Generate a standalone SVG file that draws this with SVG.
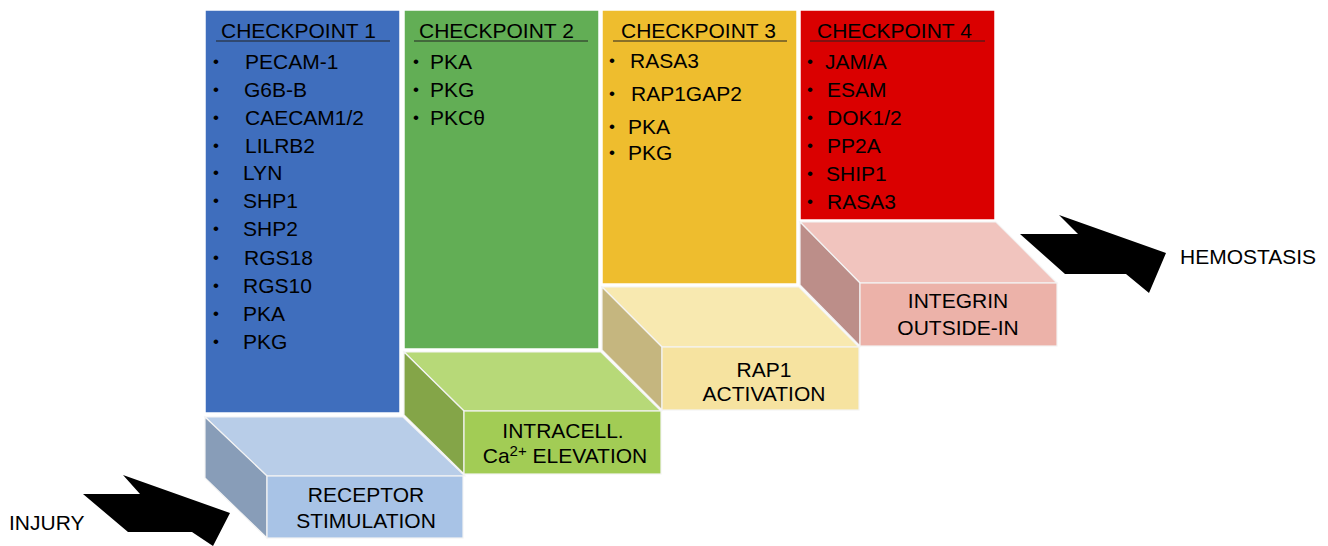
<svg xmlns="http://www.w3.org/2000/svg" width="1328" height="546" viewBox="0 0 1328 546">
<style>
text{font-family:"Liberation Sans",Arial,Helvetica,sans-serif;fill:#000;font-size:21px}
.c{text-anchor:middle}
.b{font-size:17px}
.ul{stroke:#222;stroke-width:1.2}
.pn{stroke:#fff;stroke-width:1.5}
.bx{stroke:#f4f4f4;stroke-width:1.2}
</style>
<rect width="1328" height="546" fill="#fff"/>

<g id="checkpoint1">
<rect class="pn" x="205" y="10" width="195" height="403" fill="#3F6EBD"/>
<text x="221" y="38">CHECKPOINT 1</text>
<line class="ul" x1="216" y1="41" x2="390" y2="41"/>
<g>
<text class="b" x="213" y="67">•</text><text x="245" y="69">PECAM-1</text>
<text class="b" x="213" y="95">•</text><text x="244" y="97">G6B-B</text>
<text class="b" x="213" y="123">•</text><text x="245" y="125">CAECAM1/2</text>
<text class="b" x="213" y="151">•</text><text x="245" y="153">LILRB2</text>
<text class="b" x="213" y="178">•</text><text x="243" y="180">LYN</text>
<text class="b" x="213" y="206">•</text><text x="243" y="208">SHP1</text>
<text class="b" x="213" y="234">•</text><text x="243" y="236">SHP2</text>
<text class="b" x="213" y="263">•</text><text x="244" y="265">RGS18</text>
<text class="b" x="213" y="291">•</text><text x="243" y="293">RGS10</text>
<text class="b" x="213" y="319">•</text><text x="243" y="321">PKA</text>
<text class="b" x="213" y="347">•</text><text x="243" y="349">PKG</text>
</g>
</g>

<g id="checkpoint2">
<rect class="pn" x="404" y="10" width="195" height="339" fill="#62AE55"/>
<text x="419" y="38">CHECKPOINT 2</text>
<line class="ul" x1="414" y1="41" x2="588" y2="41"/>
<text class="b" x="413" y="67">•</text><text x="430" y="69">PKA</text>
<text class="b" x="413" y="95">•</text><text x="430" y="97">PKG</text>
<text class="b" x="413" y="123">•</text><text x="430" y="125">PKCθ</text>
</g>

<g id="checkpoint3">
<rect class="pn" x="602" y="10" width="195" height="274" fill="#EEBD2E"/>
<text x="621" y="38">CHECKPOINT 3</text>
<line class="ul" x1="613" y1="41" x2="787" y2="41"/>
<text class="b" x="609" y="66">•</text><text x="630" y="68">RASA3</text>
<text class="b" x="609" y="99">•</text><text x="631" y="101">RAP1GAP2</text>
<text class="b" x="609" y="132">•</text><text x="628" y="134">PKA</text>
<text class="b" x="609" y="158">•</text><text x="628" y="160">PKG</text>
</g>

<g id="checkpoint4">
<rect class="pn" x="800" y="10" width="195" height="210" fill="#DA0000"/>
<text x="817" y="38">CHECKPOINT 4</text>
<line class="ul" x1="810" y1="41" x2="985" y2="41"/>
<text class="b" x="807" y="67">•</text><text x="825" y="69">JAM/A</text>
<text class="b" x="807" y="95">•</text><text x="827" y="97">ESAM</text>
<text class="b" x="807" y="123">•</text><text x="827" y="125">DOK1/2</text>
<text class="b" x="807" y="151">•</text><text x="827" y="153">PP2A</text>
<text class="b" x="807" y="179">•</text><text x="826" y="181">SHIP1</text>
<text class="b" x="807" y="207">•</text><text x="827" y="209">RASA3</text>
</g>

<g id="receptor-stimulation">
<polygon class="bx" points="205,417 403,417 465,476 267,476" fill="#B8CDE8"/>
<polygon class="bx" points="205,417 267,476 267,538 205,478" fill="#889DB8"/>
<rect class="bx" x="267" y="476" width="196" height="62" fill="#A8C3E6"/>
<text class="c" x="366" y="502">RECEPTOR</text>
<text class="c" x="366" y="528">STIMULATION</text>
</g>

<g id="intracell-ca">
<polygon class="bx" points="404,352 601,352 661,411 464,411" fill="#B7D978"/>
<polygon class="bx" points="404,352 464,411 464,474 404,415" fill="#84A548"/>
<rect class="bx" x="464" y="411" width="197" height="63" fill="#A2CC55"/>
<text class="c" x="563" y="438">INTRACELL.</text>
<text class="c" x="565" y="463">Ca<tspan font-size="15" dy="-7">2+</tspan><tspan dy="7"> ELEVATION</tspan></text>
</g>

<g id="rap1-activation">
<polygon class="bx" points="602,287 799,287 859,347 662,347" fill="#F8E9B0"/>
<polygon class="bx" points="602,287 662,347 662,410 602,350" fill="#C5B67F"/>
<rect class="bx" x="662" y="347" width="197" height="63" fill="#F6E3A0"/>
<text class="c" x="764" y="377">RAP1</text>
<text class="c" x="764" y="401">ACTIVATION</text>
</g>

<g id="integrin-outside-in">
<polygon class="bx" points="800,222 996,222 1057,283 860,283" fill="#F1C4BE"/>
<polygon class="bx" points="800,222 860,283 860,346 800,285" fill="#BC8E89"/>
<rect class="bx" x="860" y="283" width="197" height="63" fill="#ECB2A9"/>
<text class="c" x="958" y="308">INTEGRIN</text>
<text class="c" x="958" y="335">OUTSIDE-IN</text>
</g>

<g id="connectors">
<polygon points="123,475 230,513 213,546 192,532 128,532 83,494 140,494" fill="#000"/>
<polygon points="1059,215 1166,253 1149,293 1126,274 1065,274 1020,234 1078,234" fill="#000"/>
</g>

<g id="labels">
<text x="9" y="530">INJURY</text>
<text x="1180" y="264">HEMOSTASIS</text>
</g>
</svg>
